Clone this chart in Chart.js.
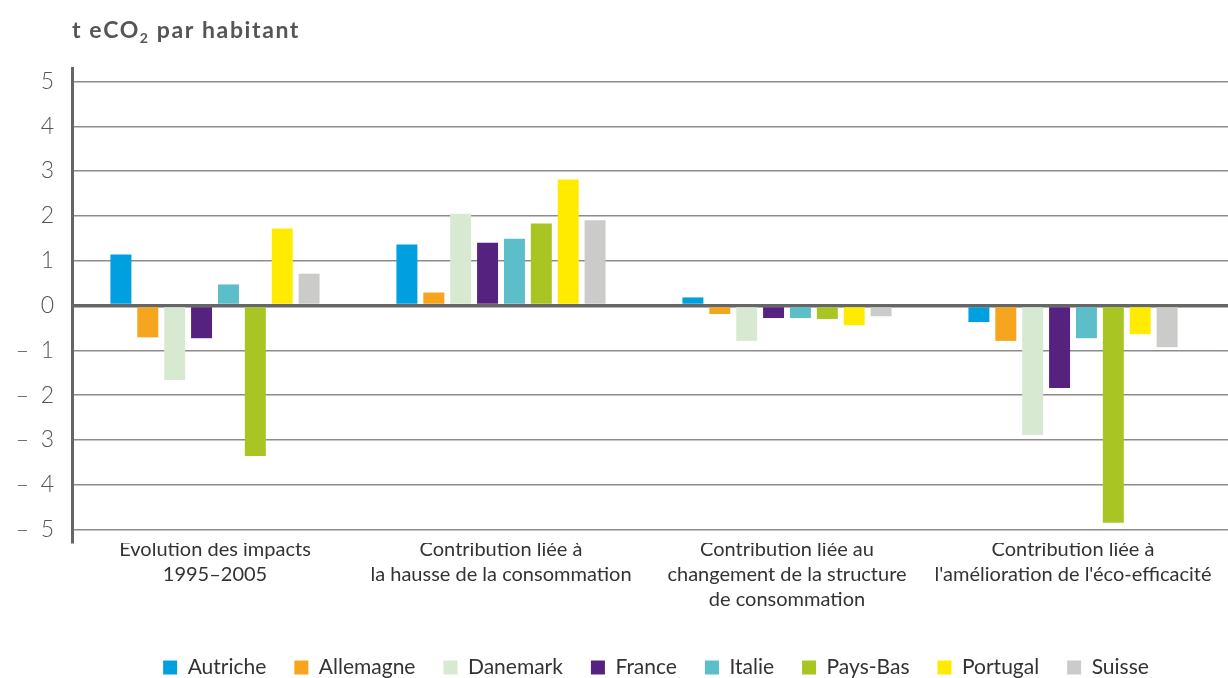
<!DOCTYPE html>
<html lang="fr">
<head>
<meta charset="utf-8">
<script src="https://cdn.jsdelivr.net/npm/chart.js@4.4.1/dist/chart.umd.min.js"></script>
<style>
  html, body { margin: 0; padding: 0; background: #fff; }
  #wrap { width: 1228px; height: 678px; position: relative; }
</style>
</head>
<body>
<div id="wrap"><canvas id="chart"></canvas></div>
<script>
// Catégories (axe des x)
const categories = [
    ['Evolution des impacts', '1995–2005'],
    ['Contribution liée à', 'la hausse de la consommation'],
    ['Contribution liée au', 'changement de la structure', 'de consommation'],
    ['Contribution liée à', "l'amélioration de l'éco-efficacité"]
];

// Pays et valeurs (t eCO2 par habitant)
const pays = ['Autriche', 'Allemagne', 'Danemark', 'France', 'Italie', 'Pays-Bas', 'Portugal', 'Suisse'];
const autriche  = [1.14, 1.36, 0.18, -0.37];
const allemagne = [-0.71, 0.29, -0.19, -0.79];
const danemark  = [-1.66, 2.05, -0.79, -2.89];
const france    = [-0.73, 1.40, -0.28, -1.84];
const italie    = [0.47, 1.49, -0.28, -0.73];
const paysBas   = [-3.36, 1.83, -0.30, -4.85];
const portugal  = [1.72, 2.81, -0.44, -0.64];
const suisse    = [0.71, 1.90, -0.24, -0.93];

const couleurs = ['#009fe0', '#f6a51e', '#d8e9d1', '#55237f', '#5bbec9', '#a8c523', '#ffeb00', '#cbcbca'];
const series = [autriche, allemagne, danemark, france, italie, paysBas, portugal, suisse];

const gridColor = (v) => v === 0 ? '#666' : '#8c8c8c';
const gridWidth = (v) => v === 0 ? 3.5 : 1.5;

// Titre de l'axe avec indice "2"
const titrePlugin = {
    id: 'titreAxe',
    afterDraw(chart) {
        const ctx = chart.ctx;
        ctx.save();
        ctx.fillStyle = '#555';
        ctx.textBaseline = 'alphabetic';
        ctx.letterSpacing = '1.6px';
        ctx.font = 'bold 23px Lato';
        let x = 72;
        const y = 38;
        ctx.fillText('t eCO', x, y);
        x += ctx.measureText('t eCO').width;
        ctx.font = 'bold 14px Lato';
        ctx.fillText('2', x, y + 5);
        x += ctx.measureText('2').width;
        ctx.font = 'bold 23px Lato';
        ctx.fillText(' par habitant', x, y);
        ctx.restore();
    }
};

// Prolonge les lignes de grille jusqu'au bord droit, décale la légende
const gridPlugin = {
    id: 'prolongeGrille',
    afterLayout(chart) {
        chart.legend.left += 48;
        chart.legend.right += 48;
    },
    beforeDatasetsDraw(chart) {
        const y = chart.scales.y;
        const ctx = chart.ctx;
        ctx.save();
        y.ticks.forEach(t => {
            const w = gridWidth(t.value);
            const half = w / 2;
            const py = Math.round(y.getPixelForValue(t.value) - half) + half;
            ctx.strokeStyle = gridColor(t.value);
            ctx.lineWidth = w;
            ctx.beginPath();
            ctx.moveTo(chart.chartArea.right, py);
            ctx.lineTo(chart.width, py);
            ctx.stroke();
        });
        ctx.restore();
    }
};

new Chart(document.getElementById('chart'), {
    type: 'bar',
    data: {
        labels: categories,
        datasets: pays.map((p, i) => ({
            label: p,
            data: series[i],
            backgroundColor: couleurs[i],
            borderWidth: 0,
            barPercentage: 0.78,
            categoryPercentage: 0.752
        }))
    },
    options: {
        responsive: true,
        maintainAspectRatio: false,
        animation: false,
        layout: { padding: { top: 68, right: 12, left: 0, bottom: -10 } },
        scales: {
            x: {
                afterFit: (scale) => { scale.height = 86; },
                grid: { display: false, drawTicks: false },
                border: { display: false },
                ticks: {
                    color: '#333',
                    font: { family: 'Lato', size: 20, lineHeight: 1.25 },
                    padding: -6,
                    maxRotation: 0,
                    autoSkip: false
                }
            },
            y: {
                min: -5.3,
                max: 5.3,
                afterFit: (scale) => { scale.width = 72; },
                afterBuildTicks: (scale) => {
                    scale.ticks = scale.ticks.filter(t => Number.isInteger(t.value));
                },
                border: { display: true, color: '#666', width: 3 },
                grid: {
                    drawTicks: false,
                    color: (c) => c.tick ? gridColor(c.tick.value) : '#8c8c8c',
                    lineWidth: (c) => c.tick ? gridWidth(c.tick.value) : 1.5
                },
                ticks: {
                    stepSize: 1,
                    includeBounds: false,
                    padding: 18,
                    color: '#555',
                    font: { family: 'Lato', size: 23, weight: 300 },
                    callback: (v) => v < 0 ? '–\u2002' + (-v) : String(v)
                }
            }
        },
        plugins: {
            legend: {
                position: 'bottom',
                labels: {
                    boxWidth: 14,
                    boxHeight: 14,
                    padding: 28,
                    color: '#333',
                    font: { family: 'Lato', size: 21 }
                }
            },
            tooltip: { enabled: false }
        }
    },
    plugins: [titrePlugin, gridPlugin]
});
</script>
</body>
</html>
